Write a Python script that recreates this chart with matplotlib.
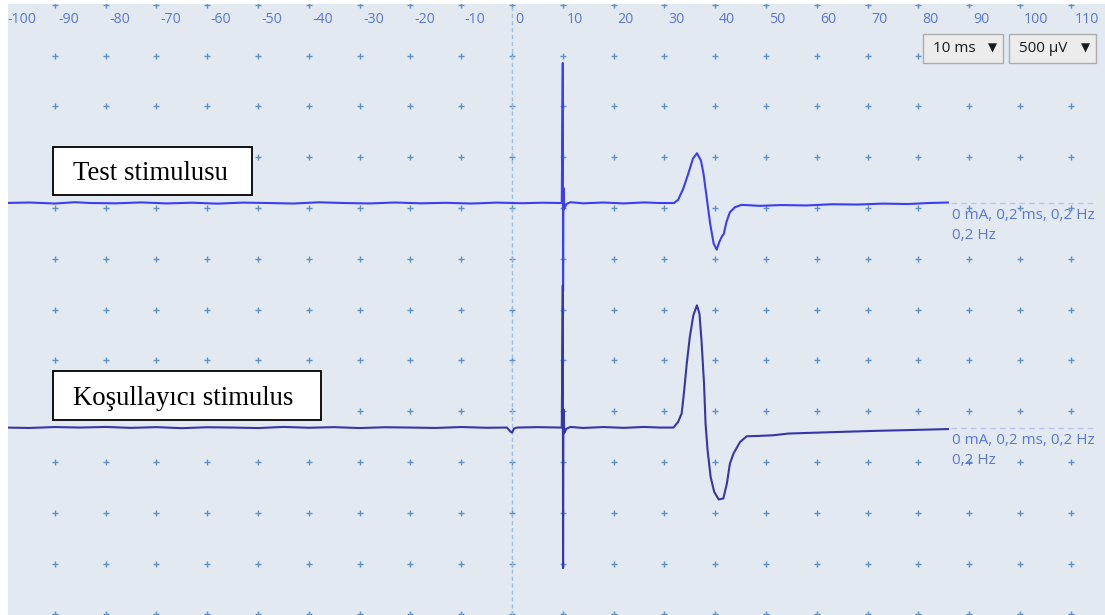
import matplotlib
matplotlib.use("Agg")
import matplotlib.pyplot as plt
from matplotlib.patches import Rectangle
import numpy as np

W, H = 1105, 615

# time axis (ms) and amplitude grid (uV)
time_ticks = list(range(-100, 111, 10))
amp_grid = list(range(0, 6001, 500))

# test stimulus response, uV relative to its baseline
test_t = [-100, -95, -90, -86, -83, -78, -73, -68, -63, -58, -53, -48, -43, -38,
          -33, -28, -23, -18, -13, -8, -3, 2, 6, 9.8, 10.0, 10.05, 10.12, 10.3,
          10.7, 11.5, 14, 18, 22, 26, 29, 31.9, 32.7, 33.7, 34.7, 35.6, 36.4,
          37.2, 37.7, 38.4, 39.0, 39.7, 40.3, 40.8, 41.3, 41.7, 42.2, 42.9,
          43.9, 45.2, 48.8, 53, 58, 63, 68, 73, 78, 82, 85.8]
test_uv = [0, 5, -5, 8, 0, -3, 6, -4, 3, -6, 4, 0, -5, 7, 0, -4, 5, -3, 2, -5,
           4, -2, 3, 0, 1378, -870, 150, -55, -10, 8, -3, 5, -4, 6, 0, 0, 31,
           140, 288, 435, 490, 418, 288, 25, -202, -400, -459, -384, -330, -303,
           -189, -90, -41, -18, -28, -20, -24, -12, -15, -6, -10, 0, 5]

# conditioning stimulus response, uV relative to its baseline
cond_t = [-100, -95, -90, -85, -80, -75, -70, -65, -60, -55, -50, -45, -40, -35,
          -30, -25, -20, -15, -10, -5, -1, -0.3, 0, 0.4, 1, 5, 9.8, 10.0, 10.05,
          10.12, 10.3, 10.7, 11.5, 14, 18, 22, 26, 29, 31.8, 32.7, 33.4, 33.9,
          34.4, 35.0, 35.7, 36.4, 36.9, 37.3, 37.8, 38.1, 38.5, 39.1, 39.8,
          40.7, 41.6, 42.3, 42.9, 43.6, 44.9, 46.2, 48.2, 51.4, 54.4, 60, 66.5,
          72, 78, 85.8]
cond_uv = [0, -4, 5, 0, 6, -3, 4, -6, 3, 0, -5, 6, -2, 4, -5, 3, 0, -4, 5, -2,
           0, -40, -50, -10, 0, 4, 0, 1400, -1383, 180, -55, -12, 6, -4, 5, -3,
           6, 0, 0, 56, 138, 367, 629, 891, 1105, 1203, 1121, 859, 433, 39,
           -223, -486, -633, -708, -698, -551, -354, -256, -142, -86, -83, -76,
           -59, -50, -40, -32, -25, -15]

# baseline level of each channel on the amplitude grid (uV)
test_base = 4050
cond_base = 1840

info_text = "0 mA, 0,2 ms, 0,2 Hz\n0,2 Hz"

ms_per_px = 10 / 50.8
uv_per_px = 500 / 50.8
x0_px = 512  # px of t = 0


def fig_xy(px, py):
    return px / W, 1 - py / H


fig = plt.figure(figsize=(W / 100, H / 100), dpi=100)
fig.patch.set_facecolor("white")
ax = fig.add_axes([8 / W, 0, (W - 8) / W, (H - 4) / H])
ax.set_facecolor("#e2e9f1")
ax.set_xlim((8 - x0_px) * ms_per_px, (W - x0_px) * ms_per_px)
ax.set_ylim(-5, (614.5 - 4) * uv_per_px)
for s in ax.spines.values():
    s.set_visible(False)
ax.set_xticks([])
ax.set_yticks([])

# cross markers on the grid (the -100 column sits outside the view)
gx, gy = np.meshgrid(time_ticks[1:], amp_grid)
ax.plot(gx.ravel(), gy.ravel(), ls="none", marker="+", ms=5, mew=1.0,
        color="#5f92c8", zorder=1)

# t = 0 marker line
ax.axvline(0, color="#9cc2e2", lw=1, ls=(0, (3, 2)), zorder=1)

# time labels along the top
for t in time_ticks:
    ax.text(t + 0.7, (614.5 - 20) * uv_per_px, str(t), ha="left", va="center",
            fontsize=10.2, family="Open Sans", color="#5a78dc", zorder=3)

# traces
ax.plot(test_t, np.array(test_uv) + test_base, color="#3d3df3", lw=1.5,
        solid_joinstyle="round", zorder=4)
ax.plot(cond_t, np.array(cond_uv) + cond_base, color="#3636a8", lw=1.5,
        solid_joinstyle="round", zorder=4)
for base in (test_base, cond_base):
    ax.plot([86.5, 115], [base, base], color="#bcc6ee", lw=1,
            ls=(0, (4, 3)), zorder=2)

# stimulus info next to each trace
for base in (test_base, cond_base):
    ax.text(86.6, base - 50, info_text, ha="left", va="top", fontsize=11,
            family="Open Sans", color="#5a78dc", linespacing=1.45, zorder=3)

# channel name boxes
boxes = [("Test stimulusu", 53, 147, 199, 48),
         ("Koşullayıcı stimulus", 53, 371, 268, 49)]
for label, bx, by, bw, bh in boxes:
    fx, fy = fig_xy(bx, by + bh)
    fig.patches.append(Rectangle((fx, fy), bw / W, bh / H, transform=fig.transFigure,
                                 facecolor="white", edgecolor="black", lw=1.3,
                                 zorder=5))
    tx, ty = fig_xy(73, by + bh / 2 + 3)
    fig.text(tx, ty, label, ha="left", va="center", fontsize=19.3,
             family="Liberation Serif", color="black", zorder=6)

# scale selectors
selectors = [("10 ms", 923, 80), ("500 µV", 1009, 87)]
for label, bx, bw in selectors:
    fx, fy = fig_xy(bx, 63)
    fig.patches.append(Rectangle((fx, fy), bw / W, 29 / H, transform=fig.transFigure,
                                 facecolor="#ececec", edgecolor="#adadad", lw=1,
                                 zorder=5))
    tx, ty = fig_xy(bx + 10, 49)
    fig.text(tx, ty, label, ha="left", va="center", fontsize=11,
             family="Open Sans", color="#1a1a1a", zorder=6)
    ax_x, ax_y = fig_xy(bx + bw - 11, 48)
    fig.text(ax_x, ax_y, "▼", ha="center", va="center", fontsize=8.5,
             family="DejaVu Sans", color="#1a1a1a", zorder=6)

fig.savefig("out.png", dpi=100, facecolor=fig.get_facecolor())
